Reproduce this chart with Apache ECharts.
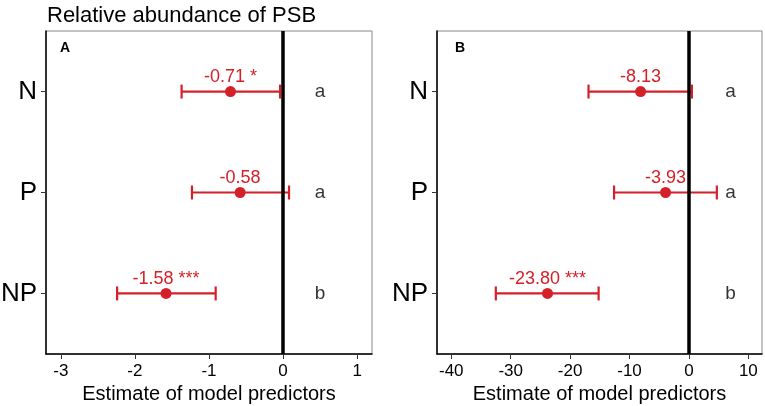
<!DOCTYPE html>
<html>
<head>
<meta charset="utf-8">
<script src="https://cdn.jsdelivr.net/npm/echarts@6/dist/echarts.min.js"></script>
<style>
  html, body { margin: 0; padding: 0; background: #fff; }
  #chart { width: 765px; height: 406px; }
</style>
</head>
<body>
<div id="chart"></div>
<script>
// 数据
var categories = ['N', 'P', 'NP'];
var yPos = [1, 2, 3];

var estA = [-0.71, -0.58, -1.58];
var lowA = [-1.37, -1.23, -2.24];
var highA = [-0.04, 0.08, -0.91];
var sigA = ['*', '', '***'];
var lettersA = ['a', 'a', 'b'];
var letterXA = 0.5;
var xTicksA = [-3, -2, -1, 0, 1];

var estB = [-8.13, -3.93, -23.80];
var lowB = [-16.9, -12.6, -32.5];
var highB = [0.5, 4.7, -15.2];
var sigB = ['', '', '***'];
var lettersB = ['a', 'a', 'b'];
var letterXB = 7;
var xTicksB = [-40, -30, -20, -10, 0, 10];

var red = '#d42129';
var font = 'Arial, "Liberation Sans", sans-serif';

var myChart = echarts.init(document.getElementById('chart'));

function xAxisOf(idx, min, max, ticks) {
  return {
    type: 'value', gridIndex: idx, min: min, max: max,
    name: 'Estimate of model predictors', nameLocation: 'middle', nameGap: 28,
    nameTextStyle: { fontSize: 20, color: '#000', fontFamily: font },
    axisLine: { show: true, onZero: false, lineStyle: { color: '#000', width: 1.5 } },
    axisTick: { show: true, length: 5, customValues: ticks, lineStyle: { color: '#333' } },
    axisLabel: { customValues: ticks, fontSize: 17, color: '#000', margin: 9, fontFamily: font },
    splitLine: { show: false }
  };
}

function yAxisOf(idx) {
  return {
    type: 'value', gridIndex: idx, min: 0.4, max: 3.6, inverse: true,
    axisLine: { show: true, onZero: false, lineStyle: { color: '#000', width: 1.5 } },
    axisTick: { show: true, length: 5, customValues: yPos, lineStyle: { color: '#333' } },
    axisLabel: {
      customValues: yPos, fontSize: 26, color: '#000', margin: 9, fontFamily: font,
      formatter: function (v) { return categories[Math.round(v) - 1]; }
    },
    splitLine: { show: false }
  };
}

function errorBar(idx, low, high) {
  return {
    type: 'custom', xAxisIndex: idx, yAxisIndex: idx,
    data: low.map(function (l, i) { return [l, high[i], yPos[i]]; }),
    encode: { x: [0, 1], y: 2 },
    renderItem: function (params, api) {
      var p1 = api.coord([api.value(0), api.value(2)]);
      var p2 = api.coord([api.value(1), api.value(2)]);
      var h = 7;
      var style = { stroke: red, lineWidth: 2.2 };
      return {
        type: 'group',
        children: [
          { type: 'line', shape: { x1: p1[0], y1: p1[1], x2: p2[0], y2: p2[1] }, style: style },
          { type: 'line', shape: { x1: p1[0], y1: p1[1] - h, x2: p1[0], y2: p1[1] + h }, style: style },
          { type: 'line', shape: { x1: p2[0], y1: p2[1] - h, x2: p2[0], y2: p2[1] + h }, style: style }
        ]
      };
    },
    z: 3
  };
}

function points(idx, est, sig, digits) {
  return {
    type: 'scatter', xAxisIndex: idx, yAxisIndex: idx,
    data: est.map(function (e, i) { return [e, yPos[i]]; }),
    symbolSize: 11,
    itemStyle: { color: red, opacity: 1 },
    label: {
      show: true, position: 'top', distance: 0, color: red, fontSize: 18, fontFamily: font,
      formatter: function (p) {
        var s = est[p.dataIndex].toFixed(digits);
        return sig[p.dataIndex] ? s + ' ' + sig[p.dataIndex] : s;
      }
    },
    markLine: {
      silent: true, symbol: 'none', animation: false,
      label: { show: false },
      lineStyle: { color: '#000', width: 3.5, type: 'solid' },
      data: [{ xAxis: 0 }]
    },
    z: 4
  };
}

function letters(idx, lt, x) {
  return {
    type: 'scatter', xAxisIndex: idx, yAxisIndex: idx,
    data: lt.map(function (l, i) { return [x, yPos[i]]; }),
    symbolSize: 1,
    itemStyle: { color: 'rgba(0,0,0,0)' },
    label: {
      show: true, position: 'inside', color: '#000', fontSize: 19, fontFamily: font,
      formatter: function (p) { return lt[p.dataIndex]; }
    }
  };
}

var option = {
  animation: false,
  title: [
    { text: 'Relative abundance of PSB', left: 42, top: 0,
      textStyle: { fontSize: 22, fontWeight: 'normal', color: '#000', fontFamily: font } },
    { text: 'A', left: 55, top: 36,
      textStyle: { fontSize: 14, fontWeight: 'bold', color: '#000', fontFamily: font } },
    { text: 'B', left: 450, top: 36,
      textStyle: { fontSize: 14, fontWeight: 'bold', color: '#000', fontFamily: font } }
  ],
  grid: [
    { left: 46, right: 393, top: 31, bottom: 52, show: true, borderColor: '#888', borderWidth: 1,
      outerBoundsMode: 'none' },
    { left: 437, right: 3, top: 31, bottom: 52, show: true, borderColor: '#888', borderWidth: 1,
      outerBoundsMode: 'none' }
  ],
  xAxis: [xAxisOf(0, -3.2, 1.2, xTicksA), xAxisOf(1, -42.4, 12.3, xTicksB)],
  yAxis: [yAxisOf(0), yAxisOf(1)],
  series: [
    errorBar(0, lowA, highA),
    points(0, estA, sigA, 2),
    letters(0, lettersA, letterXA),
    errorBar(1, lowB, highB),
    points(1, estB, sigB, 2),
    letters(1, lettersB, letterXB)
  ]
};

myChart.setOption(option);
</script>
</body>
</html>
